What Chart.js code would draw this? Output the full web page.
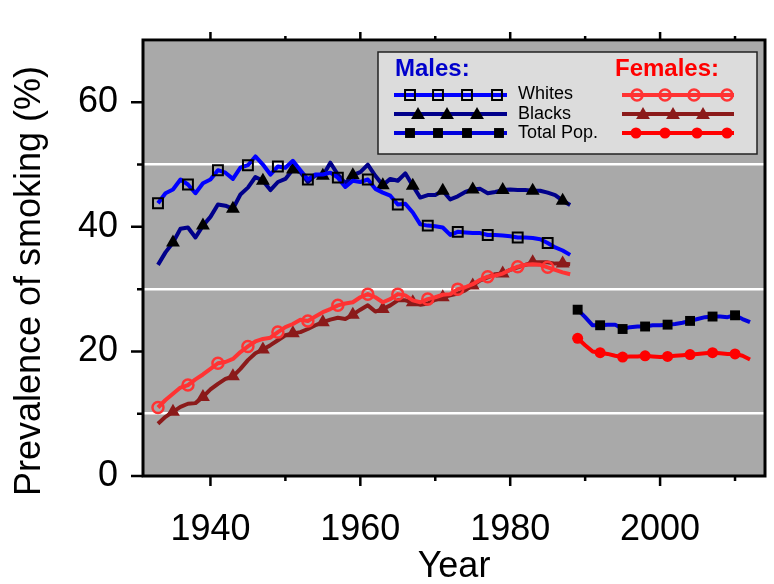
<!DOCTYPE html>
<html>
<head>
<meta charset="utf-8">
<script src="https://cdn.jsdelivr.net/npm/chart.js@4.4.1/dist/chart.umd.min.js"></script>
<style>
  html, body { margin: 0; padding: 0; background: #ffffff; }
</style>
</head>
<body>
<canvas id="chart" width="774" height="584"></canvas>
<script>
// years
const earlyYears = [1933, 1934, 1935, 1936, 1937, 1938, 1939, 1940, 1941, 1942, 1943, 1944, 1945, 1946,
  1947, 1948, 1949, 1950, 1951, 1952, 1953, 1954, 1955, 1956, 1957, 1958, 1959, 1960,
  1961, 1962, 1963, 1964, 1965, 1966, 1967, 1968, 1969, 1970, 1971, 1972, 1973, 1974,
  1975, 1976, 1977, 1978, 1979, 1980, 1981, 1982, 1983, 1984, 1985, 1986, 1987, 1988];
const lateYears = [1989, 1990, 1991, 1992, 1993, 1994, 1995, 1996, 1997, 1998, 1999, 2000,
  2001, 2002, 2003, 2004, 2005, 2006, 2007, 2008, 2009, 2010, 2011, 2012];

// prevalence of smoking (%)
const maleWhites = [43.8, 45.4, 46.0, 47.6, 46.8, 45.4, 47.0, 47.6, 49.1, 48.7, 47.7, 49.5, 49.9, 51.3,
  50.0, 48.4, 49.7, 49.5, 50.6, 49.1, 47.6, 48.4, 48.4, 48.7, 47.9, 46.4, 47.4, 47.2,
  47.6, 46.1, 45.5, 45.0, 43.6, 43.7, 42.3, 40.4, 40.2, 40.1, 39.9, 38.7, 39.2, 39.1,
  39.0, 39.0, 38.7, 38.7, 38.6, 38.5, 38.3, 38.3, 38.2, 38.0, 37.4, 36.7, 36.2, 35.5];
const maleBlacks = [33.9, 35.9, 37.5, 39.7, 39.9, 38.3, 40.2, 41.6, 43.6, 43.4, 42.9, 45.2, 46.3, 48.0,
  47.4, 45.9, 47.2, 47.7, 49.2, 48.8, 47.2, 48.3, 48.2, 50.3, 48.4, 47.0, 48.3, 48.8,
  50.0, 48.2, 46.7, 47.7, 47.4, 48.6, 46.6, 44.7, 45.1, 45.1, 45.8, 44.4, 44.9, 45.6,
  46.0, 46.1, 45.4, 45.6, 45.9, 46.0, 45.9, 45.9, 45.8, 45.8, 45.5, 45.1, 44.2, 43.5];
const femaleWhites = [11.0, 12.2, 13.2, 14.2, 14.6, 15.5, 16.3, 17.2, 18.1, 18.3, 18.8, 19.9, 20.8, 21.6,
  22.0, 22.2, 23.1, 23.9, 24.4, 25.1, 24.9, 25.6, 26.3, 26.8, 27.4, 27.7, 27.9, 28.7,
  29.2, 28.7, 27.9, 28.4, 29.2, 29.0, 28.2, 27.9, 28.4, 28.7, 29.1, 29.2, 30.0, 30.3,
  30.8, 31.5, 32.0, 32.2, 32.5, 33.1, 33.6, 33.9, 34.0, 33.9, 33.5, 33.1, 32.7, 32.4];
const femaleBlacks = [8.4, 9.5, 10.3, 11.1, 11.6, 11.7, 12.7, 13.9, 14.8, 15.6, 16.0, 17.2, 18.6, 19.7,
  20.3, 21.0, 21.8, 22.6, 22.9, 23.1, 23.6, 24.2, 24.7, 25.1, 25.4, 25.2, 25.9, 26.7,
  27.4, 26.4, 26.8, 27.4, 28.2, 28.2, 27.9, 27.5, 27.7, 28.3, 28.7, 29.0, 29.3, 29.8,
  30.6, 31.4, 31.9, 32.4, 32.5, 33.1, 33.5, 33.9, 34.3, 34.3, 34.3, 34.1, 34.1, 34.0];
const maleTotal = [26.7, 25.5, 24.2, 24.2, 24.3, 24.3, 23.6, 23.9, 24.0, 24.0, 24.2, 24.2,
  24.3, 24.4, 24.6, 24.9, 25.2, 25.5, 25.6, 25.6, 25.5, 25.8, 25.2, 24.7];
const femaleTotal = [22.1, 21.0, 20.0, 19.8, 19.6, 19.3, 19.1, 19.2, 19.2, 19.3, 19.2, 19.1,
  19.2, 19.3, 19.4, 19.5, 19.6, 19.7, 19.8, 19.7, 19.6, 19.6, 19.3, 18.7];

const xTickLabels = [1940, 1960, 1980, 2000];
const yTickLabels = [0, 20, 40, 60];

const FONT = '"Liberation Sans", Arial, sans-serif';

function pts(xs, ys) {
    return xs.map(function(x, i) { return {x: x, y: ys[i]}; });
}
// marker on every n-th point, starting at index 'start'
function every(n, start, r) {
    return function(c) { return (c.dataIndex - start) % n === 0 && c.dataIndex >= start ? r : 0; };
}

function line(label, xs, ys, color, style, n, start, r, fill, stroke, bw) {
    return {
        label: label,
        data: pts(xs, ys),
        borderColor: color,
        borderWidth: 4,
        borderJoinStyle: 'round',
        tension: 0,
        fill: false,
        pointStyle: style,
        pointRadius: every(n, start, r),
        pointBackgroundColor: fill,
        pointBorderColor: stroke,
        pointBorderWidth: bw
    };
}

// marker helper for the hand drawn legend
function marker(ctx, style, x, y, r, fill, stroke, lw) {
    ctx.beginPath();
    if (style === 'rect') {
        let s = r * Math.SQRT1_2;
        ctx.rect(x - s, y - s, 2 * s, 2 * s);
    } else if (style === 'triangle') {
        ctx.moveTo(x, y - r);
        ctx.lineTo(x + r * 0.866, y + r / 2);
        ctx.lineTo(x - r * 0.866, y + r / 2);
        ctx.closePath();
    } else {
        ctx.arc(x, y, r, 0, Math.PI * 2);
    }
    if (fill) { ctx.fillStyle = fill; ctx.fill(); }
    if (lw) { ctx.lineWidth = lw; ctx.strokeStyle = stroke; ctx.stroke(); }
}

const decor = {
    id: 'decor',
    beforeDraw: function(chart) {
        const a = chart.chartArea, ctx = chart.ctx;
        ctx.save();
        ctx.fillStyle = '#a9a9a9';
        ctx.fillRect(a.left, a.top, a.right - a.left, a.bottom - a.top);
        ctx.restore();
    },
    afterDraw: function(chart) {
        const a = chart.chartArea, ctx = chart.ctx;
        const sx = chart.scales.x, sy = chart.scales.y;
        ctx.save();
        // frame
        ctx.strokeStyle = '#000';
        ctx.lineWidth = 3;
        ctx.strokeRect(a.left, a.top, a.right - a.left, a.bottom - a.top);
        // ticks
        ctx.lineWidth = 2.5;
        ctx.beginPath();
        sx.ticks.forEach(function(t) {
            const px = sx.getPixelForValue(t.value);
            const major = xTickLabels.indexOf(t.value) >= 0;
            ctx.moveTo(px, a.bottom);
            ctx.lineTo(px, a.bottom + (major ? 10 : 5));
            ctx.moveTo(px, a.top);
            ctx.lineTo(px, a.top - (major ? 8 : 4));
        });
        sy.ticks.forEach(function(t) {
            const py = sy.getPixelForValue(t.value);
            const major = yTickLabels.indexOf(t.value) >= 0;
            if (t.value === sy.max) return;
            ctx.moveTo(a.left, py);
            ctx.lineTo(a.left - (major ? 12 : 6), py);
        });
        ctx.stroke();

        // axis titles
        ctx.fillStyle = '#000';
        ctx.font = '36px ' + FONT;
        ctx.textAlign = 'center';
        ctx.textBaseline = 'alphabetic';
        ctx.fillText('Year', (a.left + a.right) / 2, 577);
        ctx.save();
        ctx.translate(40, 281);
        ctx.rotate(-Math.PI / 2);
        ctx.fillText('Prevalence of smoking (%)', 0, 0);
        ctx.restore();

        // legend
        ctx.fillStyle = '#dcdcdc';
        ctx.fillRect(378, 52, 379, 102);
        ctx.lineWidth = 1.5;
        ctx.strokeStyle = '#222';
        ctx.strokeRect(378, 52, 379, 102);

        ctx.textAlign = 'left';
        ctx.font = 'bold 24px ' + FONT;
        ctx.fillStyle = '#0000cc';
        ctx.fillText('Males:', 395, 76);
        ctx.fillStyle = '#ff0000';
        ctx.fillText('Females:', 615, 76);

        ctx.font = '18px ' + FONT;
        ctx.fillStyle = '#000';
        ctx.textBaseline = 'middle';
        ctx.fillText('Whites', 518, 94);
        ctx.fillText('Blacks', 518, 114);
        ctx.fillText('Total Pop.', 518, 133);

        const rows = [95, 114, 133];
        const ds = chart.data.datasets;
        function sampleLine(x0, x1, y, color) {
            ctx.beginPath();
            ctx.moveTo(x0, y);
            ctx.lineTo(x1, y);
            ctx.lineWidth = 4;
            ctx.strokeStyle = color;
            ctx.stroke();
        }
        // males
        sampleLine(394, 507, rows[0], ds[0].borderColor);
        [410, 438, 467, 497].forEach(function(x) { marker(ctx, 'rect', x, rows[0], 7, null, '#000', 2); });
        sampleLine(394, 507, rows[1], ds[1].borderColor);
        [418, 447, 477].forEach(function(x) { marker(ctx, 'triangle', x, rows[1] + 1, 8, '#000'); });
        sampleLine(394, 507, rows[2], ds[4].borderColor);
        [410, 438, 467, 499].forEach(function(x) { marker(ctx, 'rect', x, rows[2], 7, '#000'); });
        // females
        sampleLine(622, 734, rows[0], ds[2].borderColor);
        [637, 665, 694, 727].forEach(function(x) { marker(ctx, 'circle', x, rows[0], 5.5, null, ds[2].borderColor, 2.5); });
        sampleLine(622, 734, rows[1], ds[3].borderColor);
        [643, 673, 703].forEach(function(x) { marker(ctx, 'triangle', x, rows[1] + 1, 8, ds[3].borderColor); });
        sampleLine(622, 734, rows[2], ds[5].borderColor);
        [636, 665, 697, 727].forEach(function(x) { marker(ctx, 'circle', x, rows[2], 5.5, ds[5].borderColor); });
        ctx.restore();
    }
};

new Chart(document.getElementById('chart'), {
    type: 'line',
    data: {
        datasets: [
            line('Males Whites', earlyYears, maleWhites, '#0000ff', 'rect', 4, 0, 7, 'rgba(0,0,0,0)', '#000', 2),
            line('Males Blacks', earlyYears, maleBlacks, '#00008b', 'triangle', 4, 2, 8, '#000', '#000', 0),
            line('Females Whites', earlyYears, femaleWhites, '#ff3333', 'circle', 4, 0, 5.5, 'rgba(0,0,0,0)', '#ff3333', 2.5),
            line('Females Blacks', earlyYears, femaleBlacks, '#8b1a1a', 'triangle', 4, 2, 8, '#8b1a1a', '#8b1a1a', 0),
            line('Males Total Pop.', lateYears, maleTotal, '#0000dd', 'rect', 3, 0, 7, '#000', '#000', 0),
            line('Females Total Pop.', lateYears, femaleTotal, '#ff0000', 'circle', 3, 0, 5.5, '#ff0000', '#ff0000', 0)
        ]
    },
    options: {
        responsive: false,
        animation: false,
        events: [],
        layout: {padding: {top: 40, right: 2, left: 0, bottom: 0}},
        plugins: {legend: {display: false}, tooltip: {enabled: false}},
        scales: {
            x: {
                type: 'linear',
                min: 1931,
                max: 2014,
                afterFit: function(s) {
                    s.height = 108;
                    s.paddingLeft = 0; s.paddingRight = 0;
                },
                grid: {display: false, drawTicks: false},
                border: {display: false},
                ticks: {
                    stepSize: 10,
                    includeBounds: false,
                    autoSkip: false,
                    maxRotation: 0,
                    padding: 32,
                    color: '#000',
                    font: {family: FONT, size: 36},
                    callback: function(v) { return xTickLabels.indexOf(v) >= 0 ? String(v) : ''; }
                }
            },
            y: {
                min: 0,
                max: 70,
                afterFit: function(s) {
                    s.width = 143;
                    s.paddingTop = 0; s.paddingBottom = 0;
                },
                grid: {
                    drawTicks: false,
                    lineWidth: 2.5,
                    color: function(c) { return c.tick && c.tick.value % 20 === 10 ? '#ffffff' : 'rgba(0,0,0,0)'; }
                },
                border: {display: false},
                ticks: {
                    stepSize: 10,
                    padding: 25,
                    color: '#000',
                    font: {family: FONT, size: 36},
                    callback: function(v) { return yTickLabels.indexOf(v) >= 0 ? String(v) : ''; }
                }
            }
        }
    },
    plugins: [decor]
});
</script>
</body>
</html>
